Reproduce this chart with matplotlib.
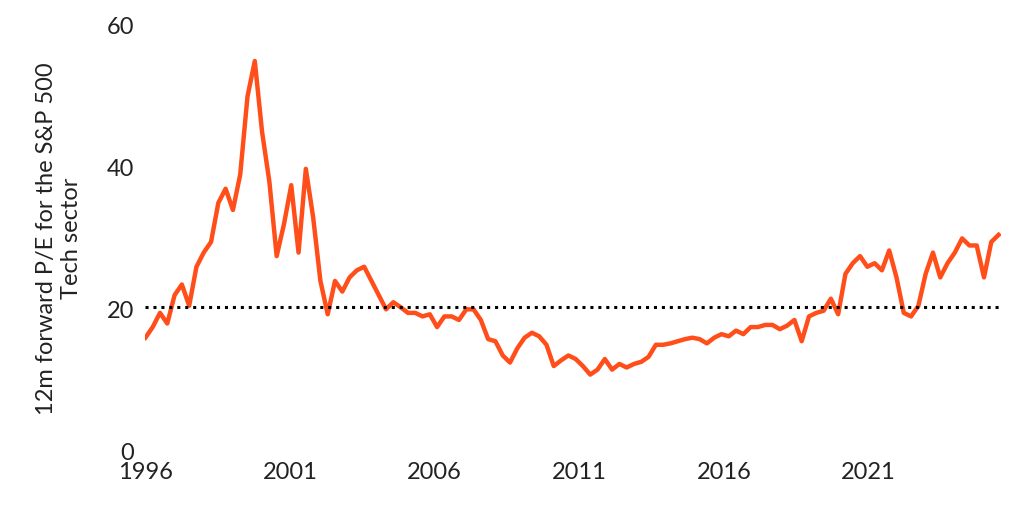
import numpy as np
import matplotlib.pyplot as plt

# 12m forward P/E, roughly quarterly from 1996 to mid-2025
pe = [16, 17.5, 19.5, 18, 22, 23.5, 20.5, 26, 28, 29.5, 35, 37, 34, 39, 50, 55,
      45, 38, 27.5, 32, 37.5, 28, 39.8, 33, 24, 19.3, 24, 22.5, 24.5, 25.5, 26, 24,
      22, 20, 21, 20.3, 19.5, 19.5, 19, 19.3, 17.5, 19, 19, 18.5, 20, 20, 18.5, 15.8,
      15.5, 13.5, 12.5, 14.5, 16, 16.7, 16.2, 15, 12, 12.8, 13.5, 13, 12, 10.8,
      11.5, 13, 11.5, 12.3, 11.8, 12.3, 12.6, 13.3, 15, 15, 15.2, 15.5, 15.8, 16,
      15.8, 15.2, 16, 16.5, 16.2, 17, 16.5, 17.5, 17.5, 17.8, 17.8, 17.2, 17.7, 18.5,
      15.5, 19, 19.5, 19.8, 21.5, 19.3, 25, 26.5, 27.5, 26, 26.5, 25.5, 28.3, 24.5,
      19.5, 19, 20.5, 25, 28, 24.5, 26.5, 28, 30, 29, 29, 24.5, 29.5, 30.5]
x = np.linspace(1996, 2025.5, len(pe))
avg_pe = 20.3
year_ticks = [1996, 2001, 2006, 2011, 2016, 2021]

plt.rcParams['font.family'] = ['Lato', 'DejaVu Sans']
fig, ax = plt.subplots(figsize=(10.24, 5.11), dpi=100)
ax.plot(x, pe, color='#ff4e1a', linewidth=3.2, solid_joinstyle='round')
ax.axhline(avg_pe, color='black', linestyle=(0, (1, 1.6)), linewidth=2.2)

ax.set_xlim(1996, 2025.6)
ax.set_ylim(0, 60)
ax.set_yticks([0, 20, 40, 60])
ax.set_xticks(year_ticks)
ax.tick_params(length=0, labelsize=17, colors='#222222', pad=8)
for s in ax.spines.values():
    s.set_visible(False)
ax.set_ylabel('12m forward P/E for the S&P 500\nTech sector', fontsize=17,
              color='#222222', labelpad=18)

fig.subplots_adjust(left=0.142, right=0.978, top=0.95, bottom=0.117)
fig.savefig('out.png', dpi=100)
